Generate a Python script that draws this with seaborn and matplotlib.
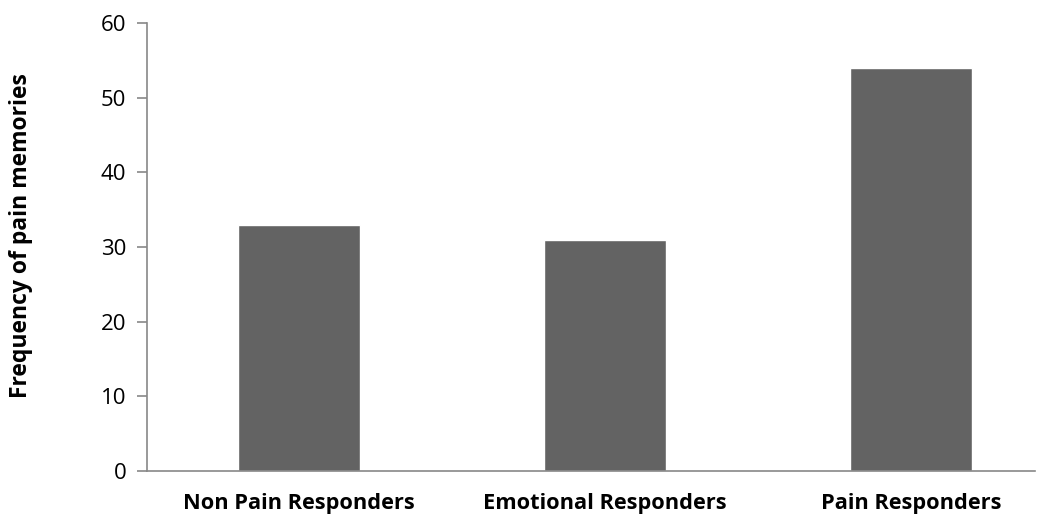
import matplotlib
matplotlib.use("Agg")
import matplotlib.pyplot as plt
import seaborn as sns
import pandas as pd

# data
groups = ["Non Pain Responders", "Emotional Responders", "Pain Responders"]
frequency = [33, 31, 54]

df = pd.DataFrame({"group": groups, "freq": frequency})

sns.set_style("white")
plt.rcParams["font.family"] = ["Open Sans", "DejaVu Sans"]
plt.rcParams["text.color"] = "black"
plt.rcParams["axes.labelcolor"] = "black"
plt.rcParams["xtick.color"] = "black"
plt.rcParams["ytick.color"] = "black"

fig = plt.figure(figsize=(10.53, 5.31), dpi=100)
ax = fig.add_axes([0.1396, 0.113, 0.8434, 0.8437])

sns.barplot(data=df, x="group", y="freq", color="#636363", saturation=1,
            width=0.4, ax=ax)

ax.set_ylim(0, 60)
ax.set_yticks(range(0, 61, 10))
ax.set_xlim(-0.497, 2.405)
ax.set_xlabel("")
ax.set_ylabel("Frequency of pain memories", fontsize=16.5, fontweight="bold")
ax.yaxis.set_label_coords(-0.128, 0.525)

for s in ["top", "right"]:
    ax.spines[s].set_visible(False)
for s in ["left", "bottom"]:
    ax.spines[s].set_color("#888888")
    ax.spines[s].set_linewidth(1.2)

ax.tick_params(axis="y", length=7, width=1.2, color="#888888", labelsize=16,
               labelcolor="black", pad=8, left=True)
ax.tick_params(axis="x", length=0, labelsize=15.7, labelcolor="black", pad=16)
for lab in ax.get_xticklabels():
    lab.set_fontweight("bold")

fig.savefig("out.png", dpi=100)
